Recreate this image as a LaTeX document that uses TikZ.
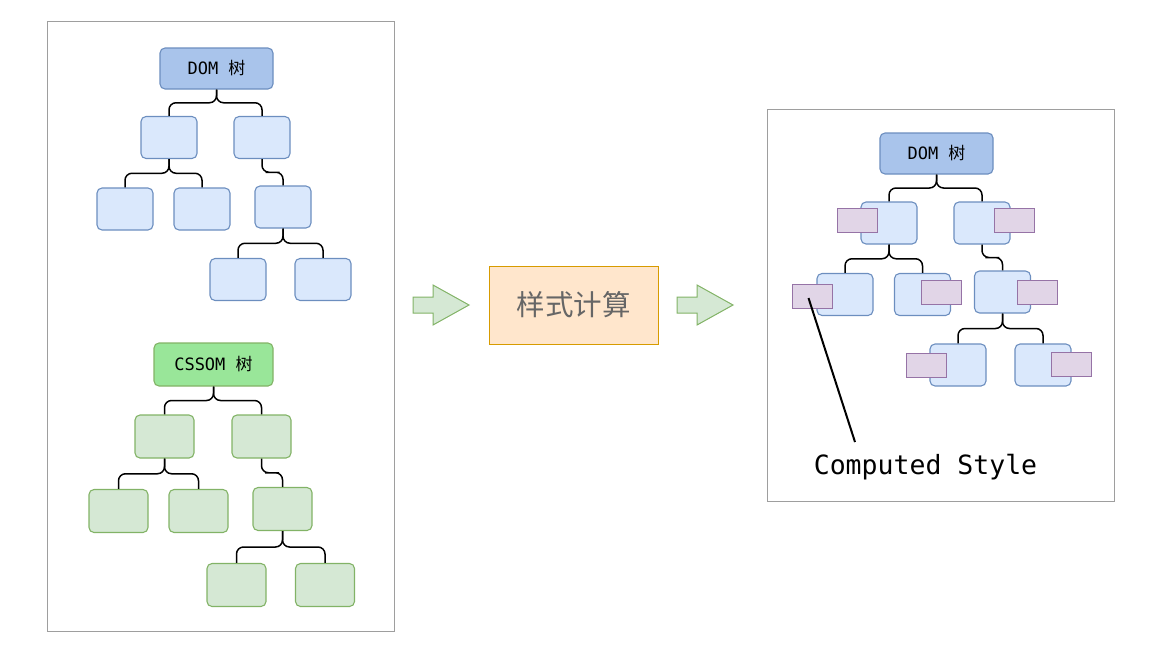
\documentclass[tikz,border=0pt]{standalone}
\usepackage{fontspec}
\setmonofont{DejaVu Sans Mono}
\newfontfamily\cjk{Noto Sans CJK SC}
\usetikzlibrary{calc}
\definecolor{domFill}{HTML}{A9C4EB}
\definecolor{nodeBlue}{HTML}{DAE8FC}
\definecolor{edgeBlue}{HTML}{6C8EBF}
\definecolor{cssFill}{HTML}{99E699}
\definecolor{nodeGreen}{HTML}{D5E8D4}
\definecolor{edgeGreen}{HTML}{82B366}
\definecolor{calcFill}{HTML}{FFE6CC}
\definecolor{calcEdge}{HTML}{D79B00}
\definecolor{styleFill}{HTML}{E1D5E7}
\definecolor{styleEdge}{HTML}{9673A6}
\definecolor{frameGray}{HTML}{9E9E9E}
\definecolor{textGray}{HTML}{666666}

\begin{document}
\begin{tikzpicture}[x=1pt, y=-1pt,
    dnode/.style={rectangle, rounded corners=5pt, draw=edgeBlue, fill=nodeBlue,
                  line width=1.1pt, minimum width=56pt, minimum height=42pt, inner sep=0pt},
    cnode/.style={rectangle, rounded corners=5pt, draw=edgeGreen, fill=nodeGreen,
                  line width=1.1pt, minimum width=59pt, minimum height=43pt, inner sep=0pt},
    droot/.style={dnode, fill=domFill, minimum width=113pt, minimum height=41pt,
                  font=\ttfamily\fontsize{17}{19}\selectfont},
    croot/.style={cnode, fill=cssFill, minimum width=119pt,
                  font=\ttfamily\fontsize{17}{19}\selectfont},
    cstyle/.style={rectangle, draw=styleEdge, fill=styleFill, line width=1pt,
                   minimum width=40pt, minimum height=24pt, inner sep=0pt},
    stylecalc/.style={rectangle, draw=calcEdge, fill=calcFill, line width=1pt,
                      minimum width=169pt, minimum height=78pt,
                      font=\cjk\fontsize{28.5}{31}\selectfont\color{textGray}},
    link/.style={draw=black, line width=1.5pt, rounded corners=7pt},
    frame/.style={draw=frameGray, line width=1pt},
    blockarrow/.style={draw=edgeGreen, fill=nodeGreen, line width=1pt},
  ]
    \useasboundingbox (0,0) rectangle (1172,654);

    % left panel
    \draw[frame] (47,21) rectangle (394,631);
    \node[droot] (dom) at (216.5,68.5) {DOM \cjk 树};
    \node[dnode] (dom1) at (169,137.5) {};
    \node[dnode] (dom2) at (262,137.5) {};
    \node[dnode] (dom11) at (125,209) {};
    \node[dnode] (dom12) at (202,209) {};
    \node[dnode] (dom21) at (283,207) {};
    \node[dnode] (dom211) at (238,279.5) {};
    \node[dnode] (dom212) at (323,279.5) {};

    \node[croot] (css) at (213.5,364.5) {CSSOM \cjk 树};
    \node[cnode] (css1) at (164.5,436.5) {};
    \node[cnode] (css2) at (261.5,436.5) {};
    \node[cnode] (css11) at (118.5,511) {};
    \node[cnode] (css12) at (198.5,511) {};
    \node[cnode] (css21) at (282.5,509) {};
    \node[cnode] (css211) at (236.5,585) {};
    \node[cnode] (css212) at (325,585) {};

    % middle
    \draw[blockarrow] (413,297) -- (433,297) -- (433,285) -- (469,305)
      -- (433,325) -- (433,313) -- (413,313) -- cycle;
    \node[stylecalc] (calc) at (573.5,305) {样式计算};
    \draw[blockarrow] (677,297) -- (697,297) -- (697,285) -- (733,305)
      -- (697,325) -- (697,313) -- (677,313) -- cycle;

    % right panel
    \draw[frame] (767,109) rectangle (1114,501);
    \node[droot] (rdom) at (936.5,153.5) {DOM \cjk 树};
    \node[dnode] (rdom1) at (889,223) {};
    \node[dnode] (rdom2) at (982,223) {};
    \node[dnode] (rdom11) at (845,294.5) {};
    \node[dnode] (rdom12) at (922.5,294.5) {};
    \node[dnode] (rdom21) at (1002.5,292) {};
    \node[dnode] (rdom211) at (958,365) {};
    \node[dnode] (rdom212) at (1043,365) {};

    \foreach \p/\c in {dom/dom1, dom/dom2, dom1/dom11, dom1/dom12, dom2/dom21,
        dom21/dom211, dom21/dom212, css/css1, css/css2, css1/css11, css1/css12,
        css2/css21, css21/css211, css21/css212, rdom/rdom1, rdom/rdom2,
        rdom1/rdom11, rdom1/rdom12, rdom2/rdom21, rdom21/rdom211, rdom21/rdom212}
      \draw[link] (\p.south) |- ($(\p.south)!.5!(\c.north)$) -| (\c.north);

    \node[cstyle] (s1) at (857,220) {};
    \node[cstyle] (s2) at (1014.5,220) {};
    \node[cstyle] (s11) at (812.5,296) {};
    \node[cstyle] (s12) at (941,292.5) {};
    \node[cstyle] (s21) at (1037,292.5) {};
    \node[cstyle] (s211) at (926,365.5) {};
    \node[cstyle] (s212) at (1071,364.5) {};

    \node[font=\ttfamily\fontsize{26.5}{29}\selectfont] (cs) at (925.5,467) {Computed Style};
    \coordinate (tip) at (855,442);
    \draw[line width=2pt] ($(s11.center)+(-4,2)$) -- (tip);
  \end{tikzpicture}
\end{document}
